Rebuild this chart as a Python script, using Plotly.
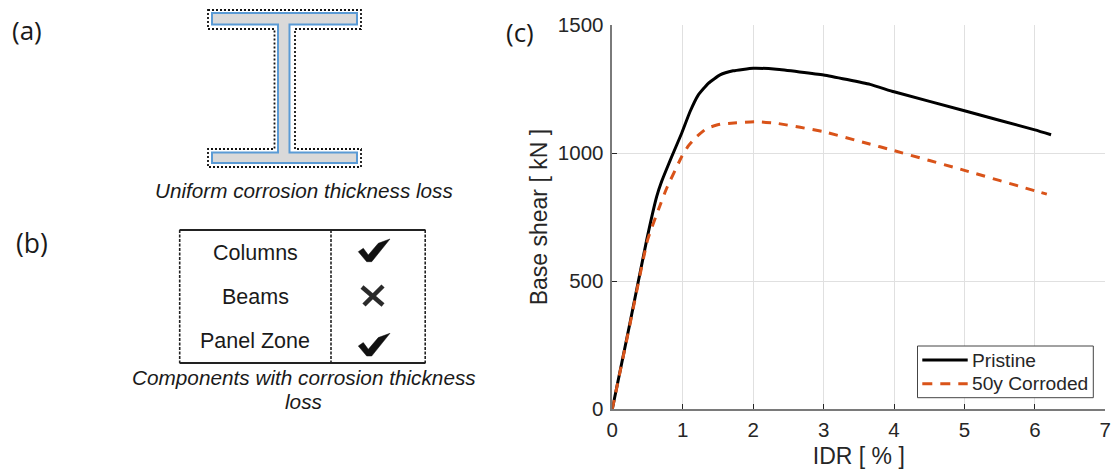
import plotly.graph_objects as go

W, H = 1113, 470

# ---- chart data (panel c) ----
pristine_idr = [0, 0.25, 0.488, 0.63, 0.70, 0.843, 0.985, 1.103, 1.22, 1.363, 1.53, 1.715, 2.0, 2.33, 3.0, 3.66, 4.0, 5.0, 6.0, 6.23]
pristine_shear = [0, 335, 660, 830, 889, 986, 1078, 1162, 1227, 1273, 1306, 1322, 1332, 1328, 1306, 1269, 1240, 1166, 1091, 1072]
corroded_idr = [0, 0.25, 0.50, 0.653, 0.772, 0.985, 1.08, 1.198, 1.34, 1.53, 1.766, 2.03, 2.33, 3.0, 3.6, 4.0, 5.0, 6.0, 6.17]
corroded_shear = [0, 330, 660, 778, 863, 986, 1029, 1065, 1097, 1113, 1119, 1123, 1117, 1084, 1040, 1010, 933, 853, 840]
series_names = ["Pristine", "50y Corroded"]
x_ticks = [0, 1, 2, 3, 4, 5, 6, 7]
y_ticks = [0, 500, 1000, 1500]

# ---- table text (panel b) ----
components = ["Columns", "Beams", "Panel Zone"]
component_y = [253, 297, 341]

# ---- diagram outlines, in picture pixels ----
beam_outline = [(212, 13), (357, 13), (357, 24.5), (289.5, 24.5), (289.5, 152.5), (357, 152.5), (357, 163),
                (212, 163), (212, 152.5), (278, 152.5), (278, 24.5), (212, 24.5)]
beam_offset = [(208, 10), (361, 10), (361, 29), (295, 29), (295, 149), (361, 149), (361, 167),
               (208, 167), (208, 149), (274.5, 149), (274.5, 29), (208, 29)]
check_mark = [(358.3, 251.7), (363.3, 248.3), (368.3, 255), (378.3, 243.3), (390, 239), (371.7, 261.7), (366.7, 261.7)]
check_offsets = [0, 94.3]
cross_strokes = [[(362, 287), (383, 305)], [(383, 286), (364, 305)]]

BLACK = "#000000"
ORANGE = "#d95319"
CURVE_DASH = "9px,8px"
LEGEND_DASH = "10px,8px"


def px(x):
    return x / W


def py(y):
    return 1 - y / H


def path(points, close=True):
    d = "M " + " L ".join(f"{px(x):.5f},{py(y):.5f}" for x, y in points)
    return d + (" Z" if close else "")


def hline(x0, x1, y, color, width, dash="solid"):
    return dict(type="line", xref="paper", yref="paper", x0=px(x0), x1=px(x1), y0=py(y), y1=py(y),
                line=dict(color=color, width=width, dash=dash))


def vline(x, y0, y1, color, width, dash="solid"):
    return dict(type="line", xref="paper", yref="paper", x0=px(x), x1=px(x), y0=py(y0), y1=py(y1),
                line=dict(color=color, width=width, dash=dash))


shapes = [
    dict(type="path", xref="paper", yref="paper", path=path(beam_outline), fillcolor="#d9d9d9",
         line=dict(color="#5b9bd5", width=2)),
    dict(type="path", xref="paper", yref="paper", path=path(beam_offset), fillcolor="rgba(0,0,0,0)",
         line=dict(color="#111111", width=1.8, dash="2px,2px")),
    hline(179.5, 425.5, 230, "#222222", 2),
    hline(179.5, 425.5, 363, "#222222", 2),
    vline(179.7, 230, 363, "#222222", 1.6, "3px,1.5px"),
    vline(331, 230, 363, "#222222", 1.6, "3px,1.5px"),
    vline(425.2, 230, 363, "#222222", 1.6, "3px,1.5px"),
    # legend box and samples
    dict(type="rect", xref="paper", yref="paper", x0=px(917.5), x1=px(1093.3), y0=py(397.7), y1=py(346),
         fillcolor="white", line=dict(color="#444444", width=1)),
    hline(922.3, 967.7, 360, BLACK, 3),
    hline(922.3, 967.7, 383.7, ORANGE, 3, LEGEND_DASH),
]
for dy in check_offsets:
    shapes.append(dict(type="path", xref="paper", yref="paper",
                       path=path([(x, y + dy) for x, y in check_mark]),
                       fillcolor="#111111", line=dict(color="#111111", width=0.5)))
for stroke in cross_strokes:
    shapes.append(dict(type="path", xref="paper", yref="paper", path=path(stroke, close=False),
                       line=dict(color="#2a2a2a", width=4.5)))


def note(text, x, y, size, family="Liberation Sans", italic=False, color="#1a1a1a", anchor="center"):
    return dict(text=f"<i>{text}</i>" if italic else text, xref="paper", yref="paper", x=px(x), y=py(y),
                xanchor=anchor, yanchor="middle", showarrow=False, borderpad=0,
                font=dict(family=family, size=size, color=color))


annotations = [
    note("(a)", 27, 30, 26, "Open Sans"),
    note("(b)", 31.5, 243, 26.5, "Open Sans"),
    note("(c)", 520, 32, 26, "Open Sans"),
    note("Uniform corrosion thickness loss", 303.5, 190, 20.7, italic=True),
    note("Components with corrosion thickness", 303.5, 377, 20.75, italic=True),
    note("loss", 303.5, 401, 20.75, italic=True),
    note(series_names[0], 971, 360, 19.2, color="#262626", anchor="left"),
    note(series_names[1], 971, 383.7, 19.2, color="#262626", anchor="left"),
]
for name, y in zip(components, component_y):
    annotations.append(note(name, 255, y, 21.5))

fig = go.Figure()
fig.add_trace(go.Scatter(x=pristine_idr, y=pristine_shear, mode="lines", name=series_names[0], showlegend=False,
                         line=dict(color=BLACK, width=3, shape="spline", smoothing=0.4)))
fig.add_trace(go.Scatter(x=corroded_idr, y=corroded_shear, mode="lines", name=series_names[1], showlegend=False,
                         line=dict(color=ORANGE, width=3, dash=CURVE_DASH, shape="spline", smoothing=0.4)))

axis_font = dict(family="Liberation Sans", size=20.5, color="#262626")
title_font = dict(family="Liberation Sans", size=23, color="#262626")
fig.update_layout(
    width=W, height=H, autosize=False,
    margin=dict(l=0, r=0, t=0, b=0, autoexpand=False),
    paper_bgcolor="white", plot_bgcolor="white",
    shapes=shapes, annotations=annotations, showlegend=False,
    xaxis=dict(domain=[px(612.3), px(1105.3)], range=[0, 7], tickvals=x_ticks, ticks="inside", ticklen=5,
               tickcolor="#262626", tickwidth=1, showgrid=True, gridcolor="#e0e0e0", gridwidth=1,
               showline=True, linecolor="#7a7a7a", linewidth=1.5, zeroline=False, automargin=False,
               ticklabelstandoff=2,
               tickfont=axis_font, title=dict(text="IDR [ % ]", font=title_font, standoff=8)),
    yaxis=dict(domain=[py(409), py(25.3)], range=[0, 1500], tickvals=y_ticks, ticks="inside", ticklen=5,
               tickcolor="#262626", tickwidth=1, showgrid=True, gridcolor="#e0e0e0", gridwidth=1,
               showline=True, linecolor="#7a7a7a", linewidth=1.5, zeroline=False, automargin=False,
               ticklabelstandoff=3,
               tickfont=axis_font, title=dict(text="Base shear [ kN ]", font=title_font, standoff=4)),
)
fig.write_html("out.html", post_script="document.body.style.margin='0';", config={"displayModeBar": False})
